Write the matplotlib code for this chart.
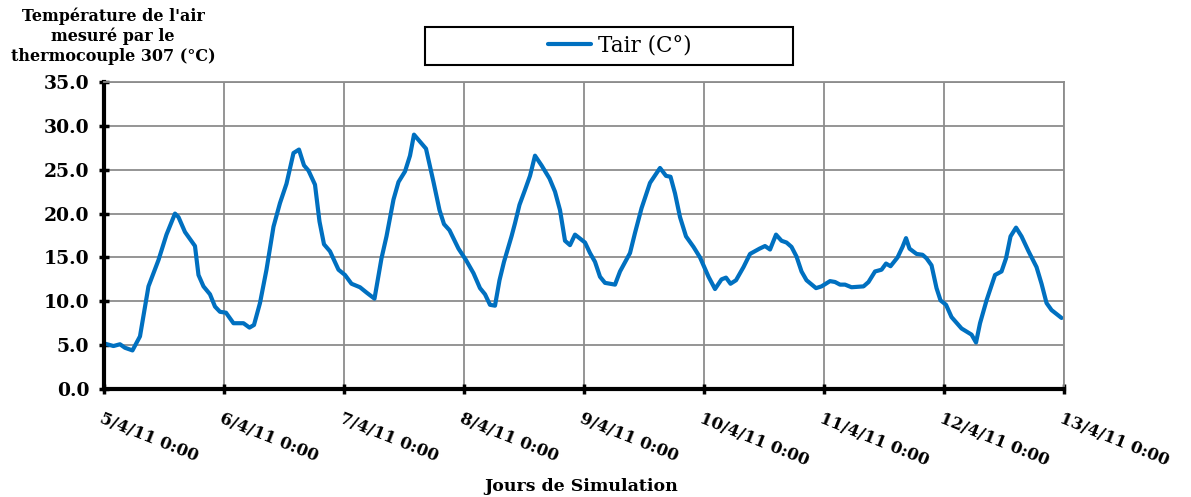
import matplotlib
matplotlib.use("Agg")
import matplotlib.pyplot as plt
from matplotlib.patches import Rectangle

# ---------------------------------------------------------------------
# Data
# hours since 5/4/11 0:00, air temperature in degC
# ---------------------------------------------------------------------
hours = [
    0, 1.9, 3.2, 4.2, 5.7, 7.2, 8.9, 10.9, 12.5, 14.2, 14.9, 16.2, 18.2, 18.9,
    19.9, 21.2, 22.2, 23.2, 24.4, 25.9, 27.9, 29.1, 30.0, 31.2, 32.5, 33.9,
    35.2, 36.5, 37.9, 39.0, 40.0, 40.9, 42.2, 43.1, 44.0, 45.2, 46.9, 48.2,
    49.5, 51.2, 52.5, 54.1, 55.5, 56.5, 57.9, 58.9, 60.2, 61.2, 62.0, 63.2,
    64.4, 65.9, 67.1, 68.0, 69.1, 70.9, 72.4, 73.9, 75.2, 76.2, 77.2, 78.2,
    79.1, 80.0, 81.5, 82.2, 83.1, 84.2, 85.2, 86.2, 87.5, 89.1, 90.2, 91.2,
    92.2, 93.2, 94.2, 96.2, 97.2, 98.2, 99.2, 100.2, 102.2, 103.2, 105.2,
    106.2, 107.5, 109.2, 111.2, 112.4, 113.3, 114.2, 115.2, 116.4, 117.9,
    119.2, 120.9, 122.2, 123.5, 124.4, 125.3, 126.4, 127.9, 129.2, 131.1,
    132.2, 133.2, 134.4, 135.5, 136.5, 137.5, 138.5, 139.5, 140.5, 142.4,
    143.5, 145.2, 146.2, 147.2, 148.2, 149.5, 151.9, 152.9, 154.2, 155.5,
    156.4, 157.3, 158.7, 159.7, 160.4, 161.1, 162.5, 163.7, 164.5, 165.5,
    166.5, 167.3, 168.4, 169.5, 171.5, 173.5, 174.4, 175.2, 176.5, 178.2,
    179.5, 180.4, 181.3, 182.4, 183.5, 184.9, 186.5, 187.5, 188.5, 189.5,
    191.5,
]
tair = [
    5.2, 4.9, 5.1, 4.7, 4.4, 6.0, 11.7, 14.7, 17.6, 20.0, 19.6, 17.9, 16.3, 13.0,
    11.7, 10.8, 9.4, 8.8, 8.7, 7.5, 7.5, 7.0, 7.3, 9.8, 13.6, 18.5,
    21.2, 23.4, 26.9, 27.3, 25.5, 24.9, 23.3, 19.1, 16.5, 15.7, 13.6, 13.0,
    12.0, 11.6, 11.0, 10.3, 14.9, 17.4, 21.6, 23.6, 24.8, 26.6, 29.0, 28.2,
    27.4, 23.6, 20.4, 18.8, 18.1, 16.0, 14.7, 13.2, 11.5, 10.8, 9.6, 9.5,
    12.4, 14.5, 17.4, 18.9, 21.0, 22.7, 24.3, 26.6, 25.5, 24.0, 22.5, 20.4,
    16.9, 16.4, 17.6, 16.7, 15.5, 14.5, 12.8, 12.1, 11.9, 13.4, 15.5,
    17.8, 20.6, 23.5, 25.2, 24.3, 24.2, 22.3, 19.6, 17.4, 16.2,
    15.0, 12.8, 11.4, 12.5, 12.7, 12.0, 12.4, 13.9, 15.4, 16.0,
    16.3, 15.9, 17.6, 16.9, 16.7, 16.2, 15.1, 13.4, 12.4, 11.5,
    11.7, 12.3, 12.2, 11.9, 11.9, 11.6, 11.7, 12.2, 13.4, 13.6,
    14.3, 14.0, 15.0, 16.2, 17.2, 16.0, 15.4, 15.3, 14.9, 14.1,
    11.5, 10.1, 9.6, 8.2, 6.9, 6.2, 5.3, 7.5, 10.1, 13.0,
    13.4, 14.9, 17.4, 18.4, 17.4, 15.7, 13.9, 12.0, 9.8, 9.0,
    8.1,
]
day_ticks = [0, 24, 48, 72, 96, 120, 144, 168, 192]
day_labels = [
    "5/4/11 0:00", "6/4/11 0:00", "7/4/11 0:00", "8/4/11 0:00", "9/4/11 0:00",
    "10/4/11 0:00", "11/4/11 0:00", "12/4/11 0:00", "13/4/11 0:00",
]
temp_ticks = [0, 5, 10, 15, 20, 25, 30, 35]

# ---------------------------------------------------------------------
# Plot
# ---------------------------------------------------------------------
fig = plt.figure(figsize=(11.91, 4.97), dpi=100)
ax = fig.add_axes([0.0873, 0.2173, 0.8061, 0.6177])

line, = ax.plot(hours, tair, color="#0070C0", linewidth=3.0, label="Tair (C°)",
                solid_joinstyle="round", solid_capstyle="round")

ax.set_xlim(0, 192)
ax.set_ylim(0, 35)
ax.set_xticks(day_ticks)
ax.set_xticklabels(day_labels, rotation=-22, ha="left", va="top",
                   rotation_mode="anchor", fontsize=12, fontweight="bold",
                   family="DejaVu Serif")
ax.set_yticks(temp_ticks)
ax.set_yticklabels([f"{v:.1f}" for v in temp_ticks], fontsize=13.5,
                   fontweight="bold", family="DejaVu Serif")

ax.grid(True, color="#8c8c8c", linewidth=1.3)
ax.set_axisbelow(True)
for side in ["top", "right"]:
    ax.spines[side].set_color("#8c8c8c")
    ax.spines[side].set_linewidth(1.3)
for side in ["left", "bottom"]:
    ax.spines[side].set_color("black")
    ax.spines[side].set_linewidth(3)
ax.tick_params(axis="both", direction="inout", length=7, width=2.5, color="black")
ax.tick_params(axis="x", pad=12)
ax.tick_params(axis="y", pad=7)

fig.text(0.095, 0.985, "Température de l'air\nmesuré par le\nthermocouple 307 (°C)",
         ha="center", va="top", fontsize=11.5, fontweight="bold",
         family="DejaVu Serif", linespacing=1.2)
fig.text(0.488, 0.005, "Jours de Simulation", ha="center", va="bottom",
         fontsize=12.5, fontweight="bold", family="DejaVu Serif")

# legend box drawn as a plain frame, legend itself without frame
box = Rectangle((425 / 1191, 1 - 65 / 497), 368 / 1191, 38 / 497,
                transform=fig.transFigure, facecolor="white",
                edgecolor="black", linewidth=1.5)
fig.patches.append(box)
fig.legend(handles=[line], loc="center", bbox_to_anchor=(620 / 1191, 1 - 46 / 497),
           frameon=False, prop={"family": "DejaVu Serif", "size": 15.5},
           handlelength=2.0, handletextpad=0.3)

plt.savefig("out.png", dpi=100)
